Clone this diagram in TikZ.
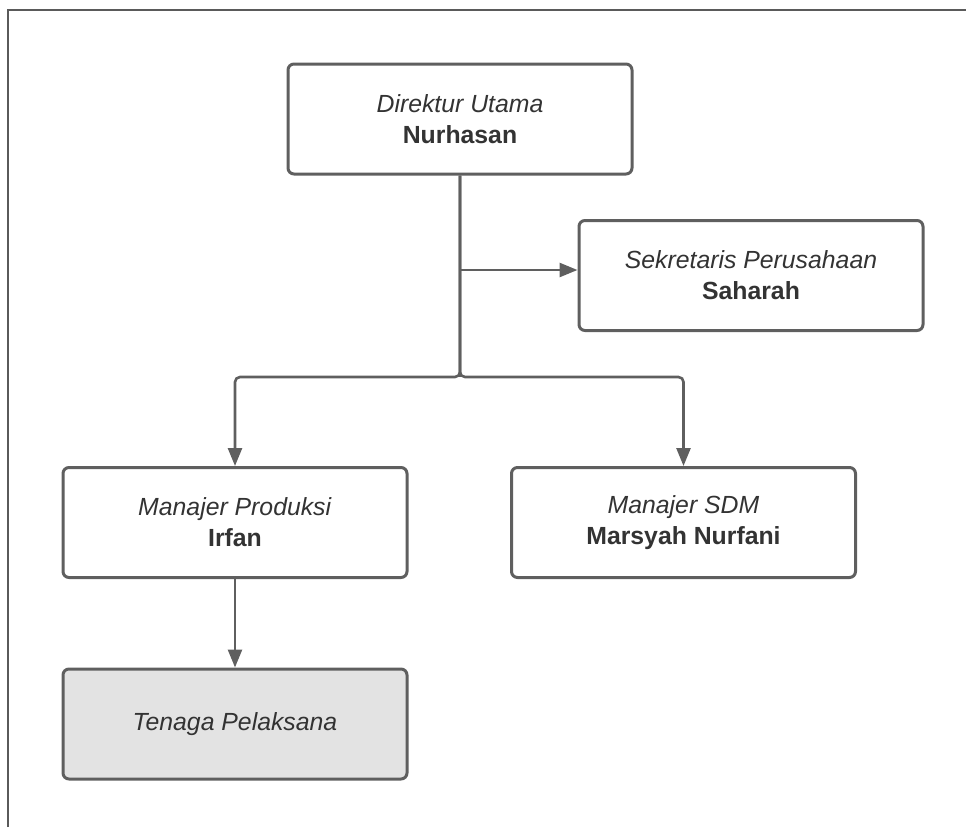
\documentclass[tikz,border=0pt]{standalone}
\usepackage{fontspec}
\setmainfont{Liberation Sans}
\usetikzlibrary{arrows.meta,calc}
\definecolor{linegray}{HTML}{5F5F5F}
\definecolor{txtgray}{HTML}{333333}
\definecolor{fillgray}{HTML}{E3E3E3}
\definecolor{framegray}{HTML}{5A5A5A}
\tikzset{
  orgbox/.style={draw=linegray, line width=3pt, rounded corners=6pt, fill=white,
    minimum width=344pt, minimum height=110pt, align=center, text=txtgray,
    font=\fontsize{24.8}{31}\selectfont, inner sep=0pt},
  conn/.style={draw=linegray, line width=2.6pt, rounded corners=5pt,
    -{Triangle[length=18pt,width=14pt]}},
  connplain/.style={draw=linegray, line width=2.6pt, rounded corners=5pt},
  frame/.style={draw=framegray, line width=2pt}
}
\begin{document}
\begin{tikzpicture}[x=1pt,y=-1pt]
\useasboundingbox (0,0) rectangle (966,827);
\coordinate (fA) at (8,827);
\coordinate (fB) at (8,9.5);
\coordinate (fC) at (966,9.5);
\draw[frame] (fA) -- (fB) -- (fC);

\node[orgbox] (dir) at (460,119) {\textit{Direktur Utama}\\\textbf{Nurhasan}};
\node[orgbox] (sek) at (751,275.5) {\textit{Sekretaris Perusahaan}\\\textbf{Saharah}};
\node[orgbox] (prod) at (235,522.5) {\textit{Manajer Produksi}\\\textbf{Irfan}};
\node[orgbox] (sdm) at (683.5,522.5) {\textit{Manajer SDM}\\\textbf{Marsyah Nurfani}};
\node[orgbox, fill=fillgray] (ten) at (235,724) {\textit{Tenaga Pelaksana}};

\coordinate (branch) at (460,270);
\coordinate (bus) at (460,377);
\draw[connplain] (dir.south) -- (bus);
\draw[conn] (branch) -- (sek.west |- branch);
\draw[conn] (dir.south) -- (bus) -| (prod.north);
\draw[conn] (dir.south) -- (bus) -| (sdm.north);
\draw[conn] (prod.south) -- (ten.north);
\end{tikzpicture}
\end{document}
